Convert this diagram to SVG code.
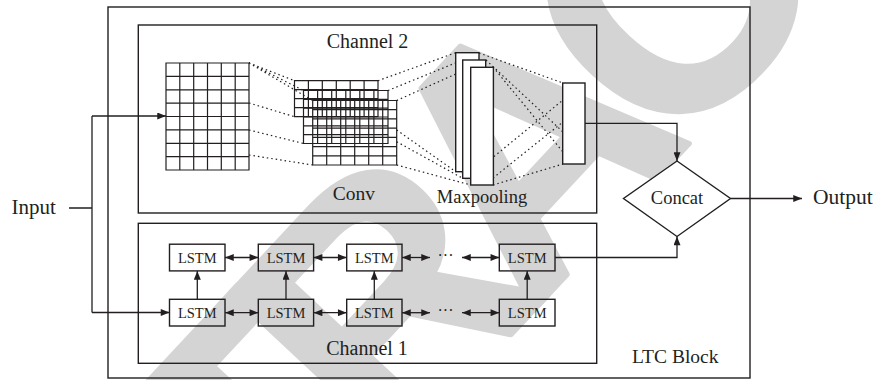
<svg xmlns="http://www.w3.org/2000/svg" width="877" height="380" viewBox="0 0 877 380">
<style>
.ln{stroke:#231f20;stroke-width:1.3;fill:none}
.bx{stroke:#231f20;stroke-width:1.4;fill:none}
.wb{stroke:#231f20;stroke-width:1.4;fill:#fff}
.gr{stroke:#231f20;stroke-width:1.2;fill:none}
.dt{stroke:#231f20;stroke-width:1.2;fill:none;stroke-dasharray:1.5 3}
.t{font-family:"Liberation Serif","Times New Roman",serif;fill:#231f20}
.wm{font-family:"Liberation Sans",Arial,sans-serif;font-weight:bold;fill:#d4d4d4;stroke:#d4d4d4;stroke-width:5;stroke-linejoin:round}
</style>
<defs>
<marker id="ah" viewBox="0 0 10 8" refX="10" refY="4" markerWidth="10" markerHeight="7" markerUnits="userSpaceOnUse" orient="auto-start-reverse">
<path d="M0,0 L10,4 L0,8 z" fill="#231f20"/>
</marker>
</defs>
<rect width="877" height="380" fill="#fff"/>
<text class="wm" font-size="340" letter-spacing="-37" transform="translate(-2.2,885.1) rotate(-47)">RETRACTED</text>

<g id="ltc-block">
<rect class="bx" x="108" y="7" width="642" height="371"/>
<text class="t" x="632" y="363" font-size="19.5">LTC Block</text>
</g>

<g id="channel2">
<rect class="bx" x="138.3" y="25" width="458.4" height="188"/>
<text class="t" x="367.5" y="48" font-size="20" text-anchor="middle">Channel 2</text>
</g>

<g id="input-grid">
<path class="gr" d="M166,63H249V170H166Z M179.8,63V170 M193.7,63V170 M207.5,63V170 M221.3,63V170 M235.2,63V170 M166,76.4H249 M166,89.8H249 M166,103.1H249 M166,116.5H249 M166,129.9H249 M166,143.3H249 M166,156.6H249"/>
</g>

<g id="conv">
<path class="gr" d="M294.5,80.7H378V116.7H294.5Z M308.4,80.7V116.7 M322.3,80.7V116.7 M336.3,80.7V116.7 M350.2,80.7V116.7 M364.1,80.7V116.7 M294.5,89.7H378 M294.5,98.7H378 M294.5,107.7H378"/>
<path class="gr" d="M303.5,90.5H388V143.5H303.5Z M317.6,90.5V143.5 M331.7,90.5V143.5 M345.8,90.5V143.5 M359.8,90.5V143.5 M373.9,90.5V143.5 M303.5,99.3H388 M303.5,108.2H388 M303.5,117H388 M303.5,125.8H388 M303.5,134.7H388"/>
<path class="gr" d="M312.7,100.5H396.7V165H312.7Z M326.7,100.5V165 M340.7,100.5V165 M354.7,100.5V165 M368.7,100.5V165 M382.7,100.5V165 M312.7,109.7H396.7 M312.7,118.9H396.7 M312.7,128.1H396.7 M312.7,137.4H396.7 M312.7,146.6H396.7 M312.7,155.8H396.7"/>
<text class="t" x="354" y="200" font-size="19.5" text-anchor="middle">Conv</text>
</g>

<g id="dotted">
<path class="dt" d="M249,63L294.5,80.7 M249,63L303.5,90.5 M249,63L312.7,100.5 M249,103L294.5,116.7 M249,130L303.5,143.5 M249,155L312.7,165"/>
<path class="dt" d="M378,80.7L455.7,52.7 M388,90.5L462.7,60 M396.7,100.5L470.7,67.3 M396.7,130L455.7,171.7 M396.7,141.7L462.7,178.3 M396.7,165L470.7,185"/>
<path class="dt" d="M479,53L563,83 M486,60L563,132 M493,67L563,152 M480,168L563,100 M493,178L563,122 M493,185L563,164"/>
</g>

<g id="maxpooling">
<rect class="wb" x="455.7" y="52.7" width="23.3" height="119"/>
<rect class="wb" x="462.7" y="60" width="23" height="118.3"/>
<rect class="wb" x="470.7" y="67.3" width="22.7" height="117.7"/>
<text class="t" x="482" y="203" font-size="18.5" text-anchor="middle">Maxpooling</text>
</g>

<g id="feature-vector">
<rect class="wb" x="562.7" y="83" width="22.3" height="81"/>
</g>

<g id="channel1">
<rect class="bx" x="138.3" y="223.3" width="458.4" height="140"/>
<text class="t" x="367" y="355" font-size="20" text-anchor="middle">Channel 1</text>
</g>

<g id="lstm-top-1"><rect class="bx" x="169.5" y="244.2" width="55.5" height="26.7"/><text class="t" x="197.3" y="263" font-size="14.5" text-anchor="middle">LSTM</text></g>
<g id="lstm-top-2"><rect class="bx" x="258.3" y="244.2" width="55.3" height="26.7"/><text class="t" x="286" y="263" font-size="14.5" text-anchor="middle">LSTM</text></g>
<g id="lstm-top-3"><rect class="bx" x="346.7" y="244.2" width="55.3" height="26.7"/><text class="t" x="374.3" y="263" font-size="14.5" text-anchor="middle">LSTM</text></g>
<g id="lstm-top-4"><rect class="bx" x="499.3" y="244.2" width="55.7" height="26.7"/><text class="t" x="527.2" y="263" font-size="14.5" text-anchor="middle">LSTM</text></g>
<g id="lstm-bot-1"><rect class="bx" x="169.5" y="299.3" width="55.5" height="26.7"/><text class="t" x="197.3" y="318" font-size="14.5" text-anchor="middle">LSTM</text></g>
<g id="lstm-bot-2"><rect class="bx" x="258.3" y="299.3" width="55.3" height="26.7"/><text class="t" x="286" y="318" font-size="14.5" text-anchor="middle">LSTM</text></g>
<g id="lstm-bot-3"><rect class="bx" x="346.7" y="299.3" width="55.3" height="26.7"/><text class="t" x="374.3" y="318" font-size="14.5" text-anchor="middle">LSTM</text></g>
<g id="lstm-bot-4"><rect class="bx" x="499.3" y="299.3" width="55.7" height="26.7"/><text class="t" x="527.2" y="318" font-size="14.5" text-anchor="middle">LSTM</text></g>

<g id="ellipsis">
<text class="t" x="445.5" y="261" font-size="16" text-anchor="middle">···</text>
<text class="t" x="445.5" y="316" font-size="16" text-anchor="middle">···</text>
</g>

<g id="concat">
<path class="wb" d="M677,161L730.5,198.5L677,236.5L623.5,198.5Z"/>
<text class="t" x="677" y="204" font-size="18.5" text-anchor="middle">Concat</text>
</g>

<g id="input"><text class="t" x="11.5" y="213.5" font-size="21">Input</text></g>
<g id="output"><text class="t" x="813" y="204" font-size="21.5">Output</text></g>

<g id="connectors">
<path class="ln" d="M69,208H92 M92,116V312.5"/>
<path class="ln" marker-end="url(#ah)" d="M92,116H166"/>
<path class="ln" marker-end="url(#ah)" d="M92,312.5H169.5"/>
<path class="ln" marker-start="url(#ah)" marker-end="url(#ah)" d="M225,257.5H258.3"/>
<path class="ln" marker-start="url(#ah)" marker-end="url(#ah)" d="M313.6,257.5H346.7"/>
<path class="ln" marker-start="url(#ah)" marker-end="url(#ah)" d="M402,257.5H430"/>
<path class="ln" marker-start="url(#ah)" marker-end="url(#ah)" d="M462,257.5H499.3"/>
<path class="ln" marker-start="url(#ah)" marker-end="url(#ah)" d="M225,312.7H258.3"/>
<path class="ln" marker-start="url(#ah)" marker-end="url(#ah)" d="M313.6,312.7H346.7"/>
<path class="ln" marker-start="url(#ah)" marker-end="url(#ah)" d="M402,312.7H430"/>
<path class="ln" marker-start="url(#ah)" marker-end="url(#ah)" d="M462,312.7H499.3"/>
<path class="ln" marker-end="url(#ah)" d="M197.3,299.3V270.9"/>
<path class="ln" marker-end="url(#ah)" d="M286,299.3V270.9"/>
<path class="ln" marker-end="url(#ah)" d="M374.3,299.3V270.9"/>
<path class="ln" marker-end="url(#ah)" d="M527.2,299.3V270.9"/>
<path class="ln" marker-end="url(#ah)" d="M555,257.5H677V236.5"/>
<path class="ln" marker-end="url(#ah)" d="M585,123.3H677V161"/>
<path class="ln" marker-end="url(#ah)" d="M730.5,198.5H802"/>
</g>
</svg>
